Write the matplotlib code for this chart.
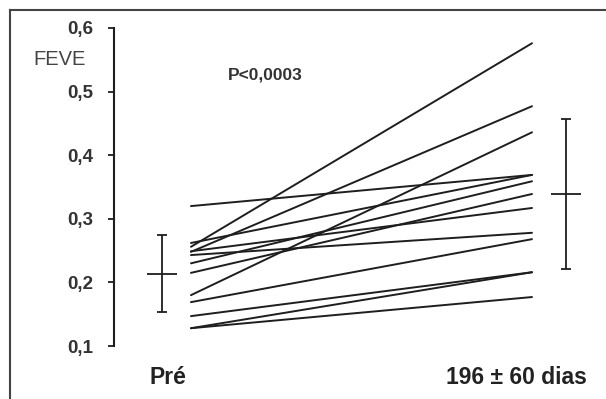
import matplotlib
matplotlib.use("Agg")
import matplotlib.pyplot as plt
from matplotlib.lines import Line2D

plt.rcParams['font.family'] = ['Liberation Sans', 'DejaVu Sans']

# FEVE per patient, before and after (196 +- 60 days)
feve_pre = [0.320, 0.256, 0.248, 0.262, 0.249, 0.243, 0.230, 0.215,
            0.180, 0.169, 0.147, 0.128, 0.128]
feve_pos = [0.369, 0.576, 0.477, 0.369, 0.317, 0.278, 0.359, 0.339,
            0.436, 0.268, 0.216, 0.216, 0.177]

# mean +- sd shown next to each column
pre_mean, pre_sd = 0.214, 0.061
pos_mean, pos_sd = 0.339, 0.118

yticks = [0.1, 0.2, 0.3, 0.4, 0.5, 0.6]
ytick_labels = ["0,1", "0,2", "0,3", "0,4", "0,5", "0,6"]
group_labels = ["Pré", "196 ± 60 dias"]

fig = plt.figure(figsize=(6.06, 3.99), dpi=100)
ax = fig.add_axes([0, 0, 1, 1])
ax.set_xlim(-0.560, 1.217)
ax.set_ylim(0.0167, 0.644)

ink = "#1e1e1e"
for a, b in zip(feve_pre, feve_pos):
    ax.plot([0, 1], [a, b], color=ink, lw=1.4, solid_capstyle='round')

# mean +- sd bars
for xpos, m, s in [(-0.085, pre_mean, pre_sd), (1.10, pos_mean, pos_sd)]:
    ax.errorbar([xpos], [m], yerr=[s], fmt='_', color=ink, ecolor=ink,
                elinewidth=1.3, capsize=3.5, capthick=1.5,
                markersize=21, markeredgewidth=1.3)

# axis: only left spine between 0.1 and 0.6
for side in ['top', 'right', 'bottom']:
    ax.spines[side].set_visible(False)
ax.spines['left'].set_position(('data', -0.226))
ax.spines['left'].set_bounds(0.1, 0.6)
ax.spines['left'].set_linewidth(1.5)
ax.spines['left'].set_color(ink)
ax.set_yticks(yticks)
ax.set_yticklabels(ytick_labels, fontsize=13.5, fontweight='bold', color="#333333")
ax.tick_params(axis='y', direction='out', length=4, width=1.3, pad=11, color=ink)
ax.set_xticks([])
ax.patch.set_alpha(0)

ax.text(-0.384, 0.55, "FEVE", fontsize=14.5, color="#444444", ha='center', va='center')
ax.text(0.217, 0.526, "P<0,0003", fontsize=12.5, fontweight='bold', color="#333333",
        ha='center', va='center')
ax.text(-0.067, 0.05, group_labels[0], fontsize=16.5, fontweight='bold', color="#222222",
        ha='center', va='center')
ax.text(0.953, 0.05, group_labels[1], fontsize=16.5, fontweight='bold', color="#222222",
        ha='center', va='center')

# scan frame (left and top edges)
fig.add_artist(Line2D([10 / 606, 10 / 606], [0, 1 - 10 / 399], transform=fig.transFigure,
                      color="#444444", lw=1.5))
fig.add_artist(Line2D([10 / 606, 1], [1 - 10 / 399, 1 - 10 / 399], transform=fig.transFigure,
                      color="#444444", lw=1.5))

fig.savefig("out.png", dpi=100)
